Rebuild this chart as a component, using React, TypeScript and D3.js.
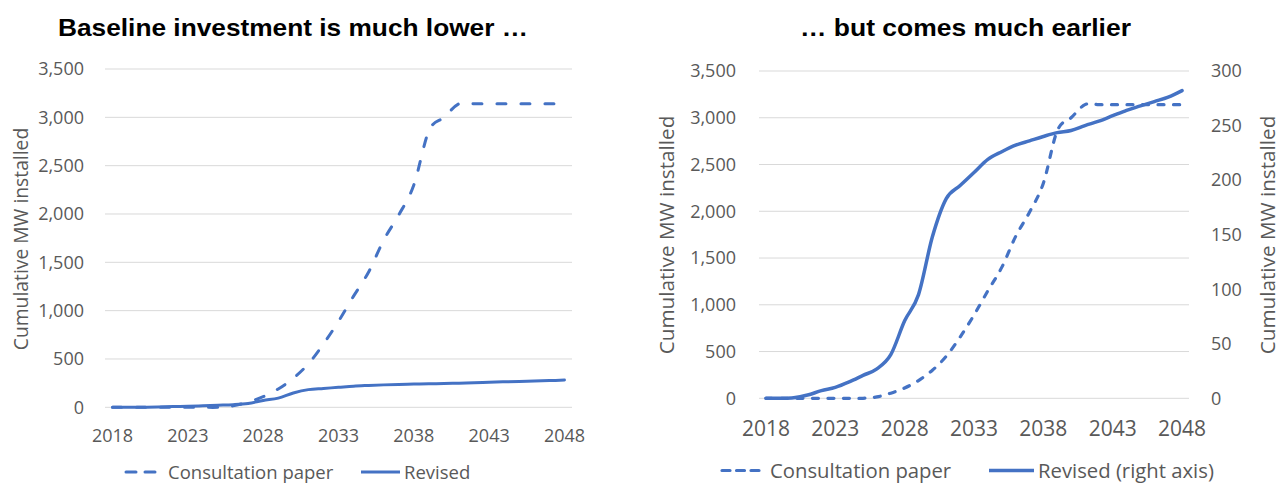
import React from 'react';
import * as d3 from 'd3';

// Installation years (one category per year)
const years: number[] = [
  2018, 2019, 2020, 2021, 2022, 2023, 2024, 2025, 2026, 2027, 2028,
  2029, 2030, 2031, 2032, 2033, 2034, 2035, 2036, 2037, 2038, 2039,
  2040, 2041, 2042, 2043, 2044, 2045, 2046, 2047, 2048,
];

// Cumulative MW installed, consultation paper baseline
const consultationPaper: number[] = [
  0, 0, 0, 0, 0, 0, 0, 0, 15, 55, 110,
  190, 300, 450, 655, 890, 1150, 1400, 1730, 1990, 2300, 2860,
  3000, 3140, 3140, 3140, 3140, 3140, 3140, 3140, 3140,
];

// Cumulative MW installed, revised baseline
const revised: number[] = [
  0, 0, 0.5, 3, 7, 10, 15, 21, 27, 40, 71,
  95, 148, 183, 195, 207, 219, 226, 232, 236, 240, 243.5,
  245.5, 250, 254, 259, 264, 268, 272, 276, 282,
];

const xTickYears: number[] = [2018, 2023, 2028, 2033, 2038, 2043, 2048];
const leftAxisTicks: number[] = [0, 500, 1000, 1500, 2000, 2500, 3000, 3500];
const rightAxisTicks: number[] = [0, 50, 100, 150, 200, 250, 300];

const titles = ['Baseline investment is much lower …', '… but comes much earlier'];
const axisTitle = 'Cumulative MW installed';
const legendLeft = ['Consultation paper', 'Revised'];
const legendRight = ['Consultation paper', 'Revised (right axis)'];

const BLUE = '#4472C4';
const GRID = '#D9D9D9';
const TEXT = '#595959';
const FONT = '"Open Sans", "Noto Sans", sans-serif';
const TITLE_FONT = '"Liberation Sans", Arial, sans-serif';

const fmt = d3.format(',');
const curve = d3.curveCardinal.tension(0);

function LeftPanel() {
  const x = d3.scalePoint<number>().domain(years).range([105, 572]).padding(0.5);
  const y = d3.scaleLinear().domain([0, 3500]).range([407.3, 69]);
  const line = d3.line<number>().x((_, i) => x(years[i])!).y((d) => y(d)).curve(curve);
  return (
    <g>
      <text
        x={58}
        y={36}
        textLength={470}
        lengthAdjust="spacingAndGlyphs"
        fontFamily={TITLE_FONT}
        fontWeight="bold"
        fontSize={24}
        fill="#000"
      >
        {titles[0]}
      </text>
      {leftAxisTicks.map((t) => (
        <g key={t}>
          <line x1={105} x2={572} y1={y(t)} y2={y(t)} stroke={GRID} strokeWidth={1} />
          <text x={84} y={y(t)} dy="0.35em" textAnchor="end" fontFamily={FONT} fontSize={18} fill={TEXT}>
            {fmt(t)}
          </text>
        </g>
      ))}
      {xTickYears.map((yr) => (
        <text key={yr} x={x(yr)} y={441.5} textAnchor="middle" fontFamily={FONT} fontSize={18} fill={TEXT}>
          {yr}
        </text>
      ))}
      <text transform="translate(28,239) rotate(-90)" textAnchor="middle" fontFamily={FONT} fontSize={19.3} fill={TEXT}>
        {axisTitle}
      </text>
      <path d={line(consultationPaper)!} fill="none" stroke={BLUE} strokeWidth={3} strokeDasharray="9 15" strokeLinecap="round" />
      <path d={line(revised)!} fill="none" stroke={BLUE} strokeWidth={3} strokeLinecap="round" />
      {/* legend */}
      <line x1={126} x2={161} y1={472} y2={472} stroke={BLUE} strokeWidth={3} strokeDasharray="10 9" strokeLinecap="round" />
      <text x={168} y={478.5} fontFamily={FONT} fontSize={18.5} fill={TEXT}>{legendLeft[0]}</text>
      <line x1={361} x2={400} y1={472} y2={472} stroke={BLUE} strokeWidth={3} />
      <text x={404} y={478.5} fontFamily={FONT} fontSize={18.5} fill={TEXT}>{legendLeft[1]}</text>
    </g>
  );
}

function RightPanel() {
  const x = d3.scalePoint<number>().domain(years).range([759, 1189]).padding(0.5);
  const yL = d3.scaleLinear().domain([0, 3500]).range([398.3, 71]);
  const yR = d3.scaleLinear().domain([0, 300]).range([398.3, 71]);
  const lineL = d3.line<number>().x((_, i) => x(years[i])!).y((d) => yL(d)).curve(curve);
  const lineR = d3.line<number>().x((_, i) => x(years[i])!).y((d) => yR(d)).curve(curve);
  return (
    <g>
      <text
        x={800}
        y={36}
        textLength={331}
        lengthAdjust="spacingAndGlyphs"
        fontFamily={TITLE_FONT}
        fontWeight="bold"
        fontSize={24}
        fill="#000"
      >
        {titles[1]}
      </text>
      {leftAxisTicks.map((t) => (
        <g key={t}>
          <line x1={759} x2={1189} y1={yL(t)} y2={yL(t)} stroke={GRID} strokeWidth={1} />
          <text x={736} y={yL(t)} dy="0.35em" textAnchor="end" fontFamily={FONT} fontSize={18} fill={TEXT}>
            {fmt(t)}
          </text>
        </g>
      ))}
      {rightAxisTicks.map((t) => (
        <text key={t} x={1211} y={yR(t)} dy="0.35em" textAnchor="start" fontFamily={FONT} fontSize={18} fill={TEXT}>
          {fmt(t)}
        </text>
      ))}
      {xTickYears.map((yr) => (
        <text key={yr} x={x(yr)} y={436} textAnchor="middle" fontFamily={FONT} fontSize={21} fill={TEXT}>
          {yr}
        </text>
      ))}
      <text transform="translate(674,235) rotate(-90)" textAnchor="middle" fontFamily={FONT} fontSize={20.7} fill={TEXT}>
        {axisTitle}
      </text>
      <text transform="translate(1275,235) rotate(-90)" textAnchor="middle" fontFamily={FONT} fontSize={20.7} fill={TEXT}>
        {axisTitle}
      </text>
      <path d={lineL(consultationPaper)!} fill="none" stroke={BLUE} strokeWidth={3.2} strokeDasharray="6 9.5" strokeLinecap="round" />
      <path d={lineR(revised)!} fill="none" stroke={BLUE} strokeWidth={3.5} strokeLinecap="round" />
      {/* legend */}
      <line x1={722} x2={761} y1={470.5} y2={470.5} stroke={BLUE} strokeWidth={3.2} strokeDasharray="8 6.5" strokeLinecap="round" />
      <text x={770} y={477.5} fontFamily={FONT} fontSize={20.3} fill={TEXT}>{legendRight[0]}</text>
      <line x1={989} x2={1034} y1={470.5} y2={470.5} stroke={BLUE} strokeWidth={3.5} />
      <text x={1038} y={477.5} fontFamily={FONT} fontSize={20.3} fill={TEXT}>{legendRight[1]}</text>
    </g>
  );
}

export default function App() {
  return (
    <svg
      width={1288}
      height={483}
      viewBox="0 0 1288 483"
      style={{ position: 'absolute', left: 0, top: 0, background: '#fff' }}
    >
      <rect width={1288} height={483} fill="#fff" />
      <LeftPanel />
      <RightPanel />
    </svg>
  );
}
